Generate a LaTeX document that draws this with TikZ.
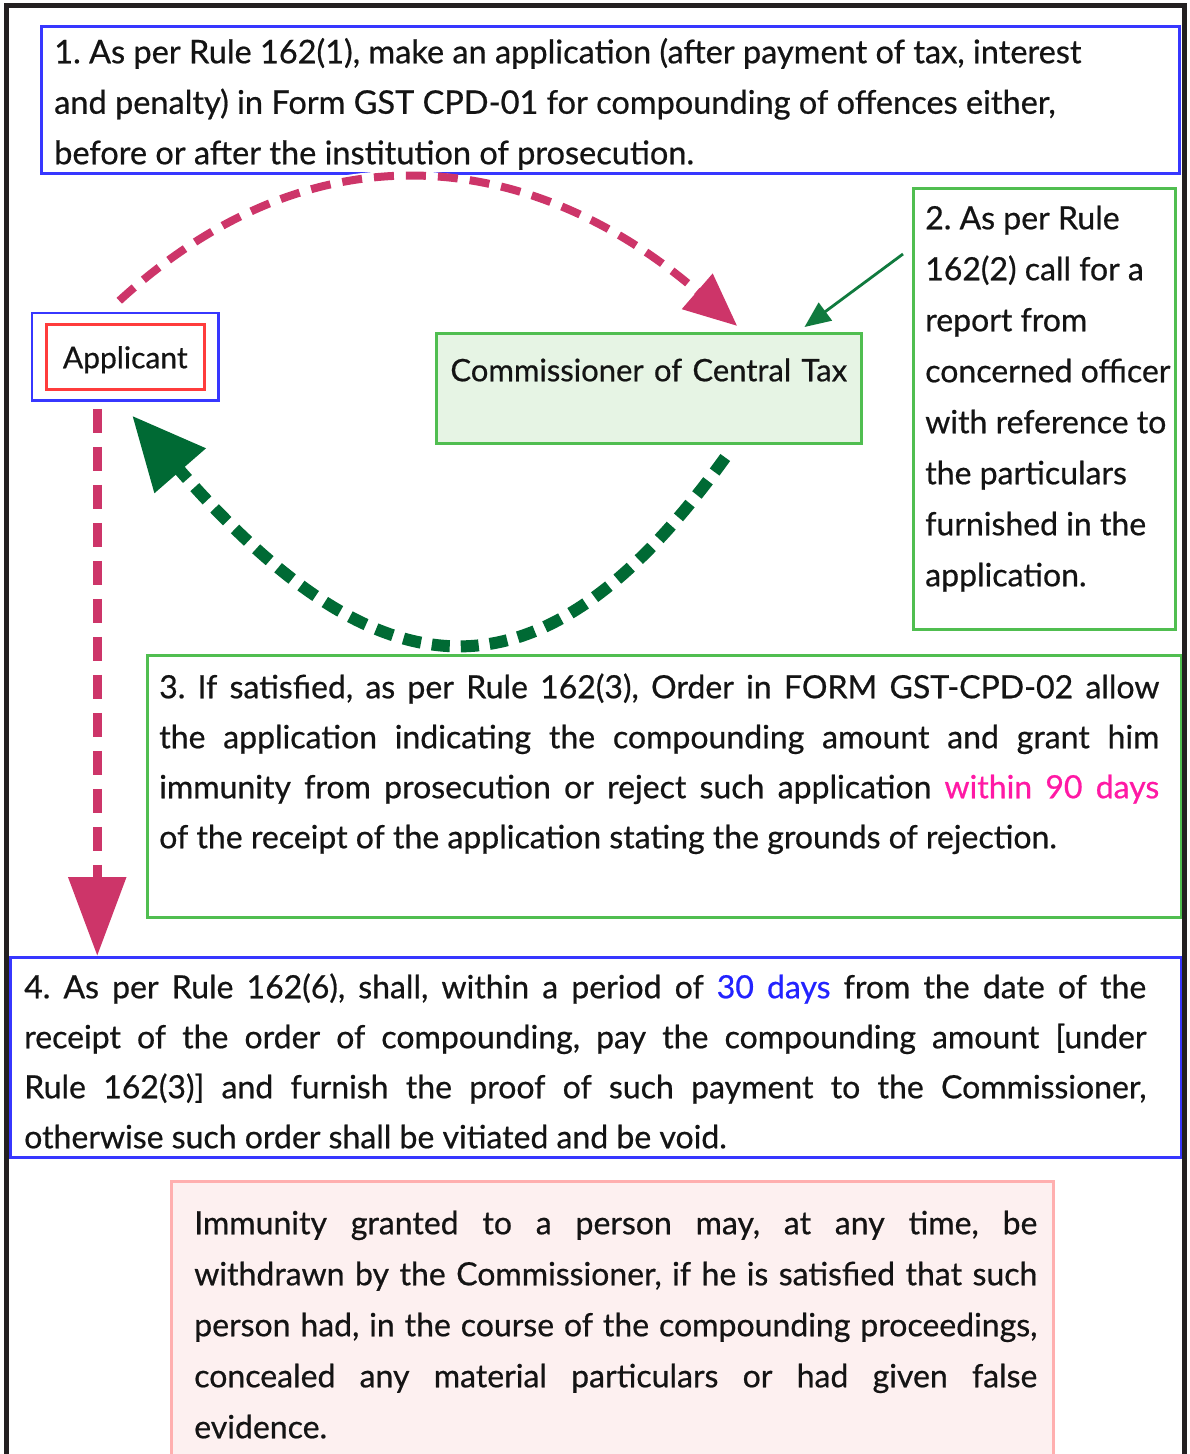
\documentclass[tikz,border=0pt]{standalone}
\usepackage{fontspec}
\setmainfont{Lato}[FakeBold=0.6]
\usetikzlibrary{arrows.meta,fit,calc}
\frenchspacing
\definecolor{bluebox}{RGB}{55,55,255}
\definecolor{redbox}{RGB}{255,60,60}
\definecolor{greenbox}{RGB}{80,190,80}
\definecolor{greenfill}{RGB}{230,244,228}
\definecolor{pinkc}{RGB}{205,53,105}
\definecolor{dgreen}{RGB}{0,106,52}
\definecolor{tgreen}{RGB}{16,122,62}
\definecolor{immborder}{RGB}{255,175,175}
\definecolor{immfill}{RGB}{253,240,240}
\definecolor{framec}{RGB}{35,32,33}
\definecolor{ninety}{RGB}{255,25,165}
\definecolor{thirty}{RGB}{35,35,255}
\definecolor{txt}{RGB}{20,20,20}
\newcommand{\jl}[1]{\makebox[\linewidth][s]{#1}\\}
\tikzset{
  box/.style={draw, line width=2.5pt, inner xsep=0pt, inner ysep=0pt, anchor=north west, text=txt},
  halo/.style={preaction={draw=white, line width=#1, solid, arrows=-}},
  pinkarc/.style={draw=pinkc, line width=8pt, dash pattern=on 20pt off 12pt, halo=16pt,
     -{Triangle[length=53pt,width=45pt]}},
  pinkvert/.style={draw=pinkc, line width=9pt, dash pattern=on 24pt off 14pt, halo=17pt,
     -{Triangle[length=79pt,width=56pt]}},
  greenarc/.style={draw=dgreen, line width=12pt, dash pattern=on 18pt off 11pt, halo=22pt,
     -{Triangle[length=73pt,width=65pt]}},
  thinarrow/.style={draw=tgreen, line width=2.8pt, -{Triangle[length=26pt,width=22pt]}},
}
\begin{document}
\begin{tikzpicture}[x=1pt,y=-1pt]
\useasboundingbox (0,0) rectangle (1190,1454);
\clip (0,0) rectangle (1190,1454);
\fill[white] (0,0) rectangle (1190,1454);

% Box 1
\node[box, draw=bluebox, text height=37pt, text depth=110pt,
      font=\fontsize{32.5}{50.5}\selectfont] (box1) at (40,25)
  {\hspace*{13pt}\parbox[t]{1112pt}{\raggedright\frenchspacing
   1. As per Rule 162(1), make an application (after payment of tax, interest\\
   and penalty) in Form GST CPD-01 for compounding of offences either,\\
   before or after the institution of prosecution.}\hspace*{13pt}};

% Box 2
\node[box, draw=greenbox, text height=41pt, text depth=400pt,
      font=\fontsize{32}{51}\selectfont] (box2) at (912,187)
  {\hspace*{12pt}\parbox[t]{262pt}{\raggedright\frenchspacing
   2. As per Rule\\ 162(2) call for a\\ report from\\ concerned officer\\ with reference to\\
   the particulars\\ furnished in the\\ application.}\hspace*{-12pt}};

% Applicant
\node[box, draw=redbox, minimum width=158pt, text height=44pt, text depth=21pt,
      font=\fontsize{30}{36}\selectfont] (applicant) at (45,323) {Applicant};
\node[draw=bluebox, line width=2.5pt, fit=(applicant), inner xsep=13pt, inner ysep=10pt] (appouter) {};

% Commissioner
\node[box, draw=greenbox, fill=greenfill, text width=425pt, text height=48pt, text depth=62pt,
      align=center, font=\fontsize{31}{36}\selectfont] (comm) at (435,332)
  {Commissioner of Central Tax};

% Box 3
\node[box, draw=greenbox, text height=43pt, text depth=219pt,
      font=\fontsize{32}{50}\selectfont] (box3) at (146,654)
  {\hspace*{12pt}\parbox[t]{1000pt}{\frenchspacing
   \jl{3. If satisfied, as per Rule 162(3), Order in FORM GST-CPD-02 allow}
   \jl{the application indicating the compounding amount and grant him}
   \jl{immunity from prosecution or reject such application \textcolor{ninety}{within 90 days}}
   of the receipt of the application stating the grounds of rejection.}\hspace*{22pt}};

% Box 4
\node[box, draw=bluebox, text height=41pt, text depth=159pt,
      font=\fontsize{32}{50}\selectfont] (box4) at (9,956)
  {\hspace*{14pt}\parbox[t]{1122pt}{\frenchspacing
   \jl{4. As per Rule 162(6), shall, within a period of \textcolor{thirty}{30 days} from the date of the}
   \jl{receipt of the order of compounding, pay the compounding amount [under}
   \jl{Rule 162(3)] and furnish the proof of such payment to the Commissioner,}
   otherwise such order shall be vitiated and be void.}\hspace*{35pt}};

% Immunity
\node[box, draw=immborder, fill=immfill, text height=53pt, text depth=237pt,
      font=\fontsize{32}{51}\selectfont] (immunity) at (170,1180)
  {\hspace*{23pt}\parbox[t]{843pt}{\frenchspacing
   \jl{Immunity granted to a person may, at any time, be}
   \jl{withdrawn by the Commissioner, if he is satisfied that such}
   \jl{person had, in the course of the compounding proceedings,}
   \jl{concealed any material particulars or had given false}
   evidence.}\hspace*{16pt}};

% Connectors
\coordinate (pstart) at ([xshift=-6pt,yshift=11pt]appouter.north);
\coordinate (pend) at ([xshift=88.5pt,yshift=6pt]comm.north);
\draw[pinkarc] (pstart) .. controls (321,116) and (540,155) .. (pend);

\coordinate (gstart) at ([xshift=76.5pt,yshift=-13pt]comm.south);
\coordinate (gend) at ([xshift=7pt,yshift=-14pt]appouter.south);
\draw[greenarc] (gstart) .. controls (540,715) and (380,700) .. (gend);

\coordinate (vstart) at ([xshift=-28pt,yshift=-7pt]appouter.south);
\draw[pinkvert] (vstart) -- (vstart |- box4.north);

\coordinate (tstart) at ([xshift=-9pt,yshift=-67pt]box2.north west);
\coordinate (tend) at ([xshift=-58pt,yshift=5pt]comm.north east);
\draw[thinarrow] (tstart) -- (tend);

% Outer frame
\draw[framec, line width=5pt] (6,1470) -- (6,5.5) -- (1184.5,5.5) -- (1184.5,1470);
\end{tikzpicture}
\end{document}
